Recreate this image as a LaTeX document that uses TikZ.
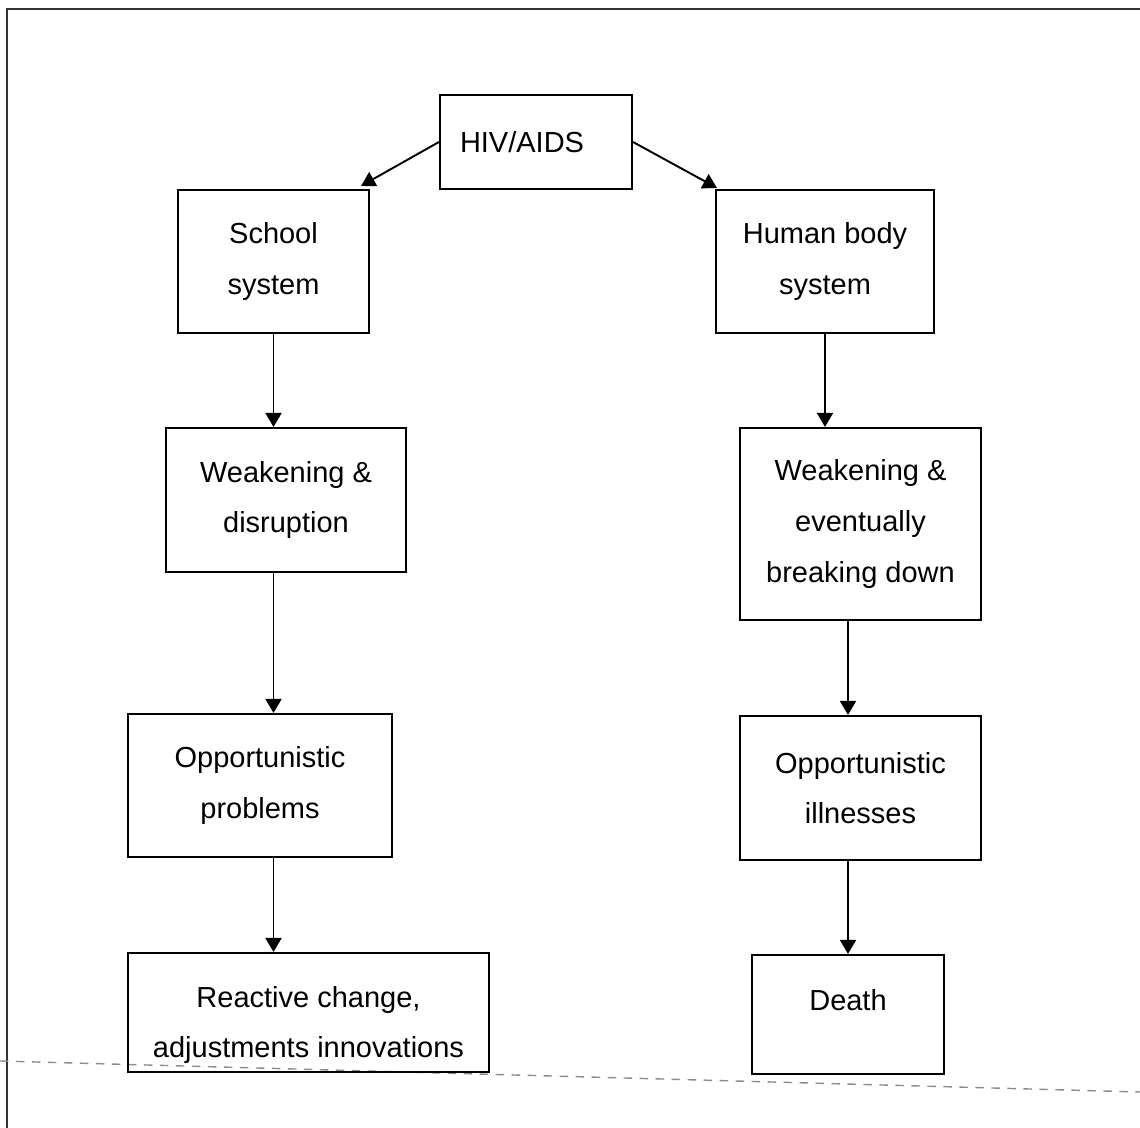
\documentclass[tikz,border=0pt]{standalone}
\usepackage{fontspec}
\setmainfont{Liberation Sans}
\usetikzlibrary{arrows.meta}

\begin{document}
\begin{tikzpicture}[x=0.02cm, y=-0.02cm,
    box/.style={draw, line width=1.2pt, inner sep=0pt, align=center,
      font=\fontsize{16.5}{28.8}\selectfont},
    size/.style 2 args={minimum width=#1*0.02cm, minimum height=#2*0.02cm},
    arr/.style={line width=1.1pt, -{Triangle[length=0.28cm, width=0.32cm]}}]
  \useasboundingbox (0,0) rectangle (1140,1128);

  % Frame
  \draw[black!80, line width=0.8pt] (7,1128) -- (7,9) -- (1140,9);
  \draw[black!45, line width=0.8pt, dash pattern=on 0.17cm off 0.15cm] (0,1061) -- (1140,1092);

  % Boxes
  \node[box, size={192}{94}, text width=152*0.02cm, align=left] (hiv) at (536,142) {HIV/AIDS};
  \node[box, size={191}{143}] (school) at (273.5,261.5) {School\\system};
  \node[box, size={218}{143}] (human) at (825,261.5) {Human body\\system};
  \node[box, size={240}{144}] (weakA) at (286,500) {Weakening \&\\disruption};
  \node[box, size={241}{192}] (weakB) at (860.5,524) {Weakening \&\\eventually\\breaking down};
  \node[box, size={264}{143}] (oppA) at (260,785.5) {Opportunistic\\problems};
  \node[box, size={241}{144}] (oppB) at (860.5,788) {Opportunistic\\illnesses};
  \node[box, size={361}{119}] (react) at (308.5,1012.5) {\rule{0pt}{26pt}Reactive change,\\adjustments innovations};
  \node[box, size={192}{119}] (death) at (848,1014.5) {Death\\[-12.8pt]};

  % Arrows
  \draw[arr] (hiv.west) -- ([shift={(-9,-3)}]school.north east);
  \draw[arr] (hiv.east) -- ([shift={(2,-1)}]human.north west);
  \draw[arr] (school.south) -- (school |- weakA.north);
  \draw[arr] (school |- weakA.south) -- (school |- oppA.north);
  \draw[arr] (school |- oppA.south) -- (school |- react.north);
  \draw[arr] (human.south) -- (human |- weakB.north);
  \draw[arr] (death |- weakB.south) -- (death |- oppB.north);
  \draw[arr] (death |- oppB.south) -- (death.north);
\end{tikzpicture}
\end{document}
